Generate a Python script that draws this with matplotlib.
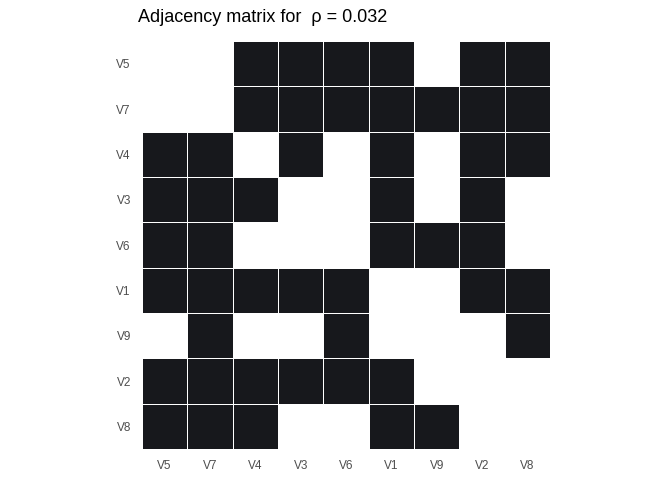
import numpy as np
import matplotlib.pyplot as plt
from matplotlib.colors import ListedColormap

plt.rcParams['font.family'] = ['Liberation Sans', 'DejaVu Sans']

nodes = ["V5", "V7", "V4", "V3", "V6", "V1", "V9", "V2", "V8"]
rho = 0.032

# rows top to bottom, columns left to right (same order as nodes)
adj = [
    [0, 0, 1, 1, 1, 1, 0, 1, 1],  # V5
    [0, 0, 1, 1, 1, 1, 1, 1, 1],  # V7
    [1, 1, 0, 1, 0, 1, 0, 1, 1],  # V4
    [1, 1, 1, 0, 0, 1, 0, 1, 0],  # V3
    [1, 1, 0, 0, 0, 1, 1, 1, 0],  # V6
    [1, 1, 1, 1, 1, 0, 0, 1, 1],  # V1
    [0, 1, 0, 0, 1, 0, 0, 0, 1],  # V9
    [1, 1, 1, 1, 1, 1, 0, 0, 0],  # V2
    [1, 1, 1, 0, 0, 1, 1, 0, 0],  # V8
]

def main():
    A = np.array(adj)
    n = len(nodes)
    fig = plt.figure(figsize=(6.72, 4.8), dpi=100)
    ax = fig.add_axes([142/672, 31/480, 408/672, 408/480])
    cmap = ListedColormap(["white", "#17181c"])
    ax.pcolormesh(np.arange(n+1), np.arange(n+1), A[::-1], cmap=cmap,
                  vmin=0, vmax=1, edgecolors="white", linewidth=0.7)
    ax.set_xlim(0, n)
    ax.set_ylim(0, n)
    ax.set_xticks(np.arange(n) + 0.5)
    ax.set_xticklabels(nodes, fontsize=8.5, color="#4d4d4d")
    ax.set_yticks(np.arange(n) + 0.5)
    ax.set_yticklabels(nodes[::-1], fontsize=8.5, color="#4d4d4d")
    ax.tick_params(length=0, pad=8)
    for s in ax.spines.values():
        s.set_visible(False)
    fig.text(138/672, 1 - 22/480, "Adjacency matrix for  \u03c1 = " + str(rho),
             fontsize=13, ha="left", va="baseline")
    fig.savefig("out.png", dpi=100)

if __name__ == "__main__":
    main()
